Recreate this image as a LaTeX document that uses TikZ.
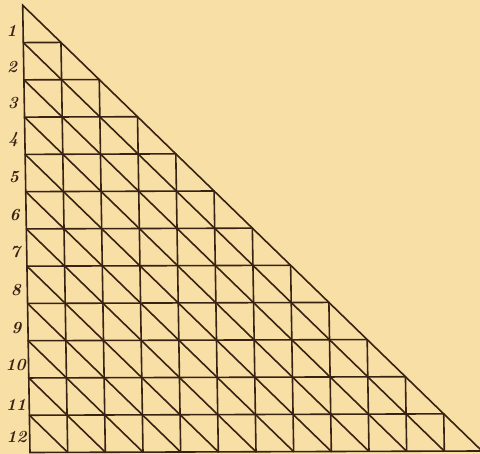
\documentclass[tikz,border=0pt]{standalone}
\definecolor{paper}{RGB}{247,223,166}
\definecolor{ink}{RGB}{56,34,18}
\begin{document}
\begin{tikzpicture}[x=1pt,y=-1pt,
  gridline/.style={draw=ink,line width=1.6pt,line cap=round},
  lab/.style={text=ink,font=\fontsize{17}{17}\selectfont\bfseries\itshape,inner sep=0pt}]
\fill[paper] (0,0) rectangle (480,454);
\useasboundingbox (0,0) rectangle (480,454);
\begin{scope}
\clip (0,0) rectangle (480,454);
% lattice points p-r-c (row boundary r, column boundary c)
\foreach \r in {0,...,12}{
  \foreach \c in {0,...,\r}{
    \coordinate (p-\r-\c) at ({22.7+\r*0.6083+\c*37.6667},{5.3+\r*37.2667-\c*0.125});
  }
}
% outline
\draw[gridline,line join=miter] (p-0-0) -- (p-12-0) -- (p-12-12) -- cycle;
% horizontal row lines
\foreach \r in {1,...,11}{
  \draw[gridline] (p-\r-0) -- (p-\r-\r);
}
% vertical column lines
\foreach \c in {1,...,11}{
  \draw[gridline] (p-\c-\c) -- (p-12-\c);
}
% diagonals
\foreach \k [evaluate=\k as \e using int(12-\k)] in {1,...,11}{
  \draw[gridline] (p-\k-0) -- (p-12-\e);
}
\end{scope}
% row numbers
\foreach \n/\yy in {1/31,2/67,3/103,4/140,5/177,6/215,7/252,8/290,9/328}{
  \node[lab] (l\n) at ({22.7+0.01632*(\yy-5.3)-11.5},\yy) {\n};
}
\foreach \n/\yy in {10/365,11/405,12/437}{
  \node[lab] (l\n) at ({22.7+0.01632*(\yy-5.3)-13},\yy) {\n};
}
\end{tikzpicture}
\end{document}
